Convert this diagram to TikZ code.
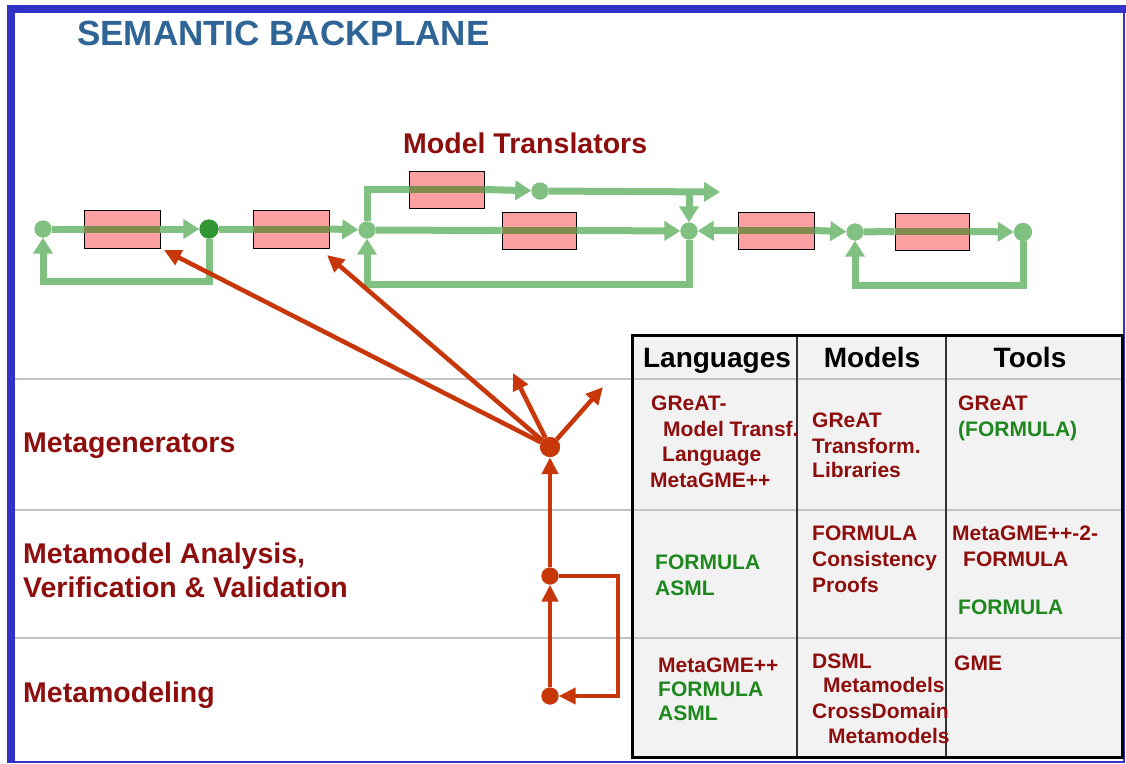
\documentclass[tikz,border=0pt]{standalone}
\usepackage{fontspec}
\setmainfont{Liberation Sans}
\usetikzlibrary{arrows.meta}
\definecolor{frameblue}{RGB}{50,50,200}
\definecolor{titleblue}{RGB}{46,100,150}
\definecolor{dred}{RGB}{142,14,14}
\definecolor{dgreen}{RGB}{30,135,30}
\definecolor{lgreen}{RGB}{128,192,128}
\definecolor{darkdot}{RGB}{50,150,50}
\definecolor{olivel}{RGB}{130,140,80}
\definecolor{pinkbox}{RGB}{250,160,160}
\definecolor{redarrow}{RGB}{200,55,10}
\definecolor{tablebg}{RGB}{242,242,242}
\definecolor{rulegray}{RGB}{195,195,195}
\tikzset{
  tbox/.style={draw=black, line width=0.8pt, fill=pinkbox, minimum width=76pt, minimum height=38pt, inner sep=0pt},
  gdot/.style={circle, fill=lgreen, minimum size=17pt, inner sep=0pt},
  gline/.style={draw=lgreen, line width=7pt},
  garrow/.style={gline, -{Triangle[length=16pt,width=19pt]}},
  thru/.style={draw=olivel, line width=7pt},
  rdot/.style={circle, fill=redarrow, minimum size=17pt, inner sep=0pt},
  rarrow/.style={draw=redarrow, line width=4.5pt, -{Triangle[length=17pt,width=16pt]}},
  lbl/.style={font=\fontsize{28.5}{30}\selectfont\bfseries, text=dred, anchor=base west, inner sep=0pt},
  cellr/.style={font=\fontsize{21}{22}\selectfont\bfseries, text=dred, anchor=base west, inner sep=0pt},
  cellg/.style={font=\fontsize{21}{22}\selectfont\bfseries, text=dgreen, anchor=base west, inner sep=0pt},
  hdr/.style={font=\fontsize{28}{30}\selectfont\bfseries, text=black, anchor=base, inner sep=0pt},
}
\begin{document}
\begin{tikzpicture}[x=1pt,y=-1pt]
\useasboundingbox (0,0) rectangle (1126,763);
\fill[white] (0,0) rectangle (1126,763);
% frame
\fill[frameblue] (7,5) rectangle (15,763);
\fill[frameblue] (7,5) rectangle (1126,13);
\draw[frameblue, line width=2pt] (1124,13) -- (1124,762) -- (15,762);

% title
\node[font=\fontsize{35}{36}\selectfont\bfseries, text=titleblue, anchor=base west, inner sep=0pt] (title) at (77,45) {SEMANTIC BACKPLANE};
\node[font=\fontsize{28.5}{30}\selectfont\bfseries, text=dred, anchor=base west, inner sep=0pt] (mt) at (403,153) {Model Translators};

% table background
\fill[tablebg] (632,335) rectangle (1122,757);
% gray rules
\draw[rulegray, line width=1.5pt] (15,379) -- (1122,379);
\draw[rulegray, line width=1.5pt] (15,510) -- (1122,510);
\draw[rulegray, line width=1.5pt] (15,638) -- (1122,638);
% table columns and border
\draw[black!80, line width=1.2pt] (797,335) -- (797,757);
\draw[black!80, line width=1.2pt] (946,335) -- (946,757);
\draw[black, line width=3pt] (632,335) rectangle (1122,757);

% left labels
\node[lbl] (lmg) at (23,452) {Metagenerators};
\node[lbl] (lma) at (23,563) {Metamodel Analysis,};
\node[lbl] (lvv) at (23,597) {Verification \& Validation};
\node[lbl] (lmm) at (23,702) {Metamodeling};

% headers
\node[hdr] (hl) at (717,367) {Languages};
\node[hdr] (hm) at (872,367) {Models};
\node[hdr] (ht) at (1030,367) {Tools};

% row 1
\node[cellr] (c11a) at (651,410) {GReAT-};
\node[cellr] (c11b) at (663,436) {Model Transf.};
\node[cellr] (c11c) at (662,461) {Language};
\node[cellr] (c11d) at (650,487) {MetaGME++};
\node[cellr] (c12a) at (812,427) {GReAT};
\node[cellr] (c12b) at (812,453) {Transform.};
\node[cellr] (c12c) at (812,477) {Libraries};
\node[cellr] (c13a) at (958,410) {GReAT};
\node[cellg] (c13b) at (958,436) {(FORMULA)};
% row 2
\node[cellg] (c21a) at (655,569) {FORMULA};
\node[cellg] (c21b) at (655,595) {ASML};
\node[cellr] (c22a) at (812,540) {FORMULA};
\node[cellr] (c22b) at (812,566) {Consistency};
\node[cellr] (c22c) at (812,592) {Proofs};
\node[cellr] (c23a) at (952,540) {MetaGME++-2-};
\node[cellr] (c23b) at (963,566) {FORMULA};
\node[cellg] (c23c) at (958,614) {FORMULA};
% row 3
\node[cellr] (c31a) at (658,672) {MetaGME++};
\node[cellg] (c31b) at (658,696) {FORMULA};
\node[cellg] (c31c) at (658,720) {ASML};
\node[cellr] (c32a) at (812,668) {DSML};
\node[cellr] (c32b) at (823,692) {Metamodels};
\node[cellr] (c32c) at (812,718) {CrossDomain};
\node[cellr] (c32d) at (828,743) {Metamodels};
\node[cellr] (c33a) at (954,670) {GME};

% green translator chain
\node[tbox] (b1) at (122,229) {};
\node[tbox] (b2) at (291,229) {};
\node[tbox, minimum height=37pt, minimum width=75pt] (b3) at (446.5,189.5) {};
\node[tbox, minimum height=37pt, minimum width=74pt] (b4) at (539,230.5) {};
\node[tbox, minimum height=37pt] (b5) at (776,230.5) {};
\node[tbox, minimum height=37pt, minimum width=74pt] (b6) at (932,231.5) {};

\node[gdot] (A) at (43,229) {};
\node[gdot, fill=darkdot, minimum size=19pt] (B) at (209,229) {};
\node[gdot] (C) at (367,230) {};
\node[gdot] (D) at (540,191) {};
\node[gdot] (E) at (689,231) {};
\node[gdot] (F) at (855,232) {};
\node[gdot, minimum size=18pt] (G) at (1023,232) {};
\coordinate (T) at (720,192);
\coordinate (J) at (689,192);
\coordinate (bb) at (209,281);
\coordinate (eb) at (689,284);
\coordinate (gb) at (1023,285);

\draw[gline] (A) -- (b1.west);
\draw[thru] (b1.west) -- (b1.east);
\draw[garrow] (b1.east) -- (B);
\draw[gline] (B) -- (b2.west);
\draw[thru] (b2.west) -- (b2.east);
\draw[garrow] (b2.east) -- (C);
\draw[garrow] (B) -- (bb) -| (A);
\draw[gline] (C) |- (b3.west);
\draw[thru] (b3.west) -- (b3.east);
\draw[garrow] (b3.east) -- (D);
\draw[garrow] (D) -- (T);
\draw[garrow] (J) -- (E);
\draw[gline] (C) -- (b4.west);
\draw[thru] (b4.west) -- (b4.east);
\draw[garrow] (b4.east) -- (E);
\draw[garrow] (E) -- (eb) -| (C);
\draw[garrow] (b5.west) -- (E);
\draw[thru] (b5.west) -- (b5.east);
\draw[garrow] (b5.east) -- (F);
\draw[gline] (F) -- (b6.west);
\draw[thru] (b6.west) -- (b6.east);
\draw[garrow] (b6.east) -- (G);
\draw[garrow] (G) -- (gb) -| (F);
% redraw dots on top
\node[gdot] at (A) {};
\node[gdot, fill=darkdot, minimum size=19pt] at (B) {};
\node[gdot] at (C) {};
\node[gdot] at (D) {};
\node[gdot] at (E) {};
\node[gdot] at (F) {};
\node[gdot, minimum size=18pt] at (G) {};

% red meta structure
\node[rdot, minimum size=20pt] (H) at (550,447) {};
\node[rdot] (V) at (550,576) {};
\node[rdot] (M) at (550,696) {};
\coordinate (t1) at (164,250);
\coordinate (t2) at (327,255);
\coordinate (u1) at (513,373);
\coordinate (u2) at (603,387);
\coordinate (vt) at (618,576);
\coordinate (vr) at (618,696);
\draw[rarrow] (H) -- (t1);
\draw[rarrow] (H) -- (t2);
\draw[rarrow] (H) -- (u1);
\draw[rarrow] (H) -- (u2);
\draw[rarrow] (M) -- (V);
\draw[rarrow] (V) -- (H);
\draw[rarrow] (V) -- (vt) -- (vr) -- (M);
\node[rdot, minimum size=20pt] at (H) {};
\node[rdot] at (V) {};
\node[rdot] at (M) {};
\end{tikzpicture}
\end{document}
